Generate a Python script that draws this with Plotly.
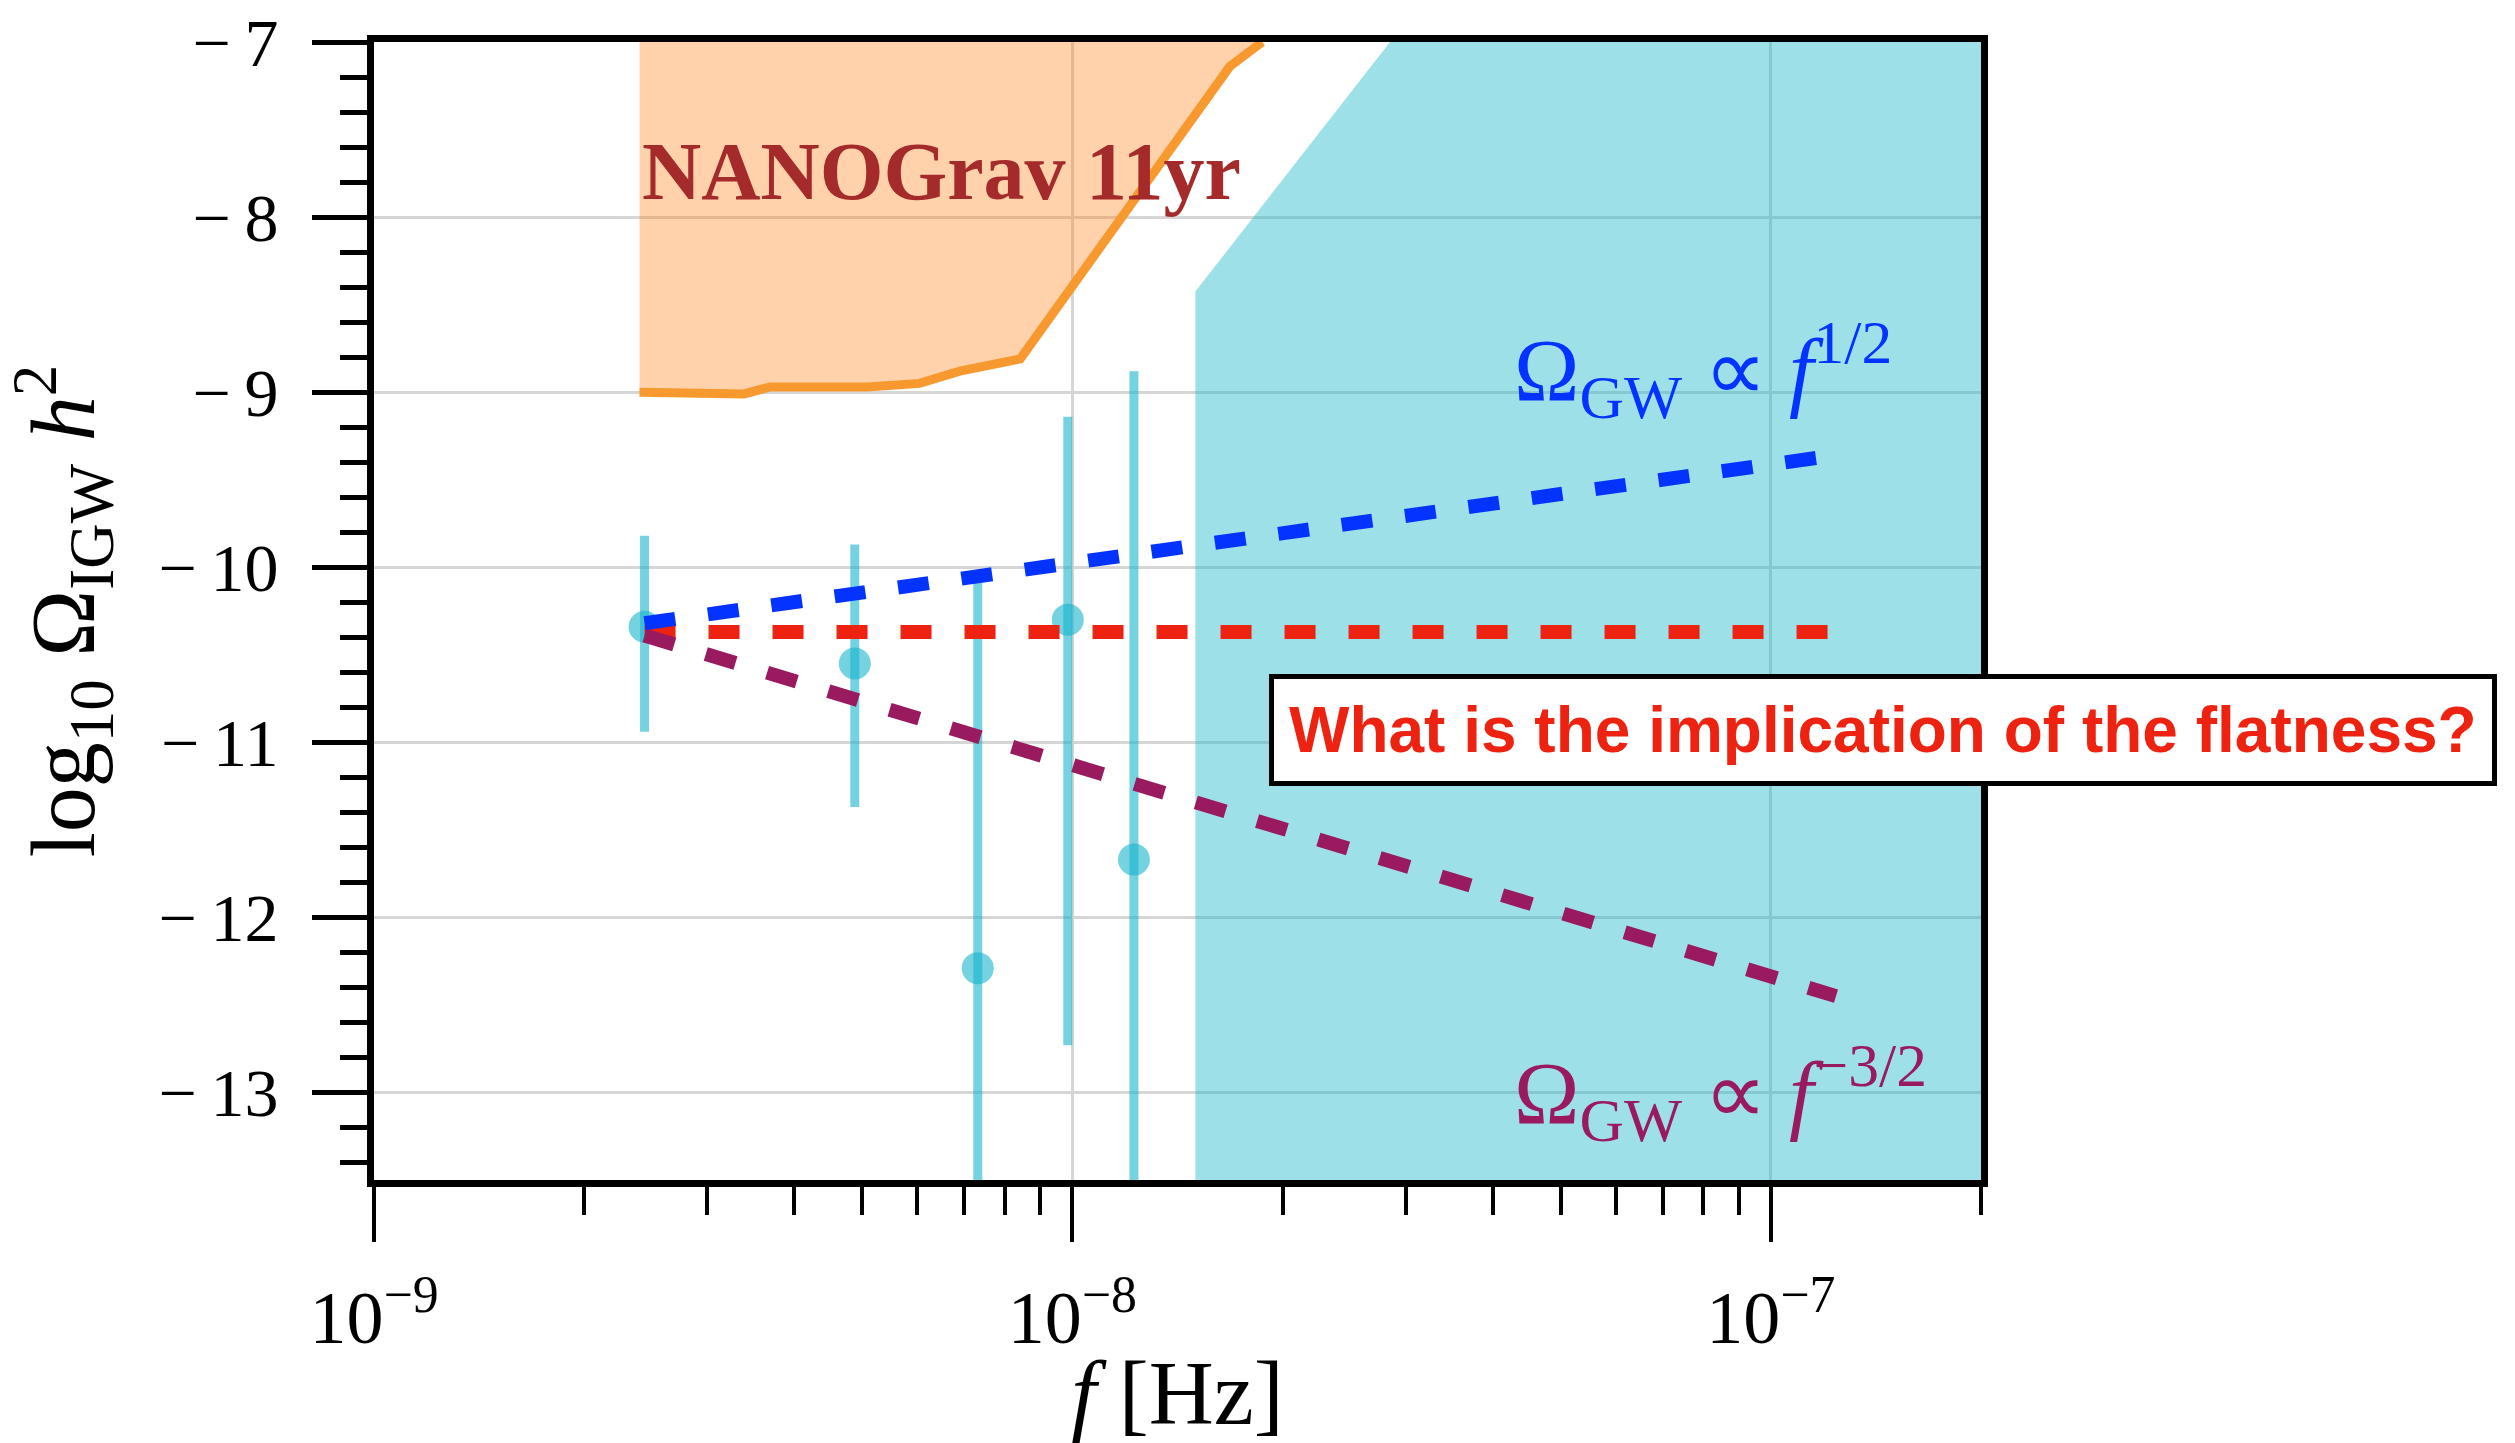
import math
import plotly.graph_objects as go

# ---------------- data ----------------
# axis ranges
x_range = [1e-9, 2e-7]
y_range = [-13.5, -7.0]

# NANOGrav 11yr upper-limit curve (f [Hz], log10 Omega h^2)
nano_f = [2.40e-9, 3.39e-9, 3.69e-9, 5.09e-9, 6.04e-9, 6.90e-9, 8.42e-9, 1.68e-8, 1.87e-8]
nano_y = [-9.00, -9.01, -8.97, -8.97, -8.95, -8.88, -8.81, -7.14, -7.00]

# excluded (cyan) region boundary
cut_f = [1.50e-8, 1.50e-8, 2.85e-8, 2.0e-7, 2.0e-7]
cut_y = [-13.5, -8.425, -7.0, -7.0, -13.5]

# data points with asymmetric error bars
pts_f = [2.44e-9, 4.88e-9, 7.32e-9, 9.85e-9, 1.225e-8]
pts_y = [-10.34, -10.55, -12.29, -10.30, -11.67]
err_up = [0.52, 0.68, 2.20, 1.16, 2.79]
err_down = [0.60, 0.82, 2.60, 2.43, 3.00]

# power-law guide lines (end points)
line_f = [2.44e-9, 1.24e-7]
blue_y = [-10.32, -9.36]
red_y = [-10.37, -10.37]
purple_y = [-10.39, -12.45]

# tick definitions
x_major = [1e-9, 1e-8, 1e-7]
x_major_text = ["10<sup>\u22129</sup>", "10<sup>\u22128</sup>", "10<sup>\u22127</sup>"]
x_minor = [2e-9, 3e-9, 4e-9, 5e-9, 6e-9, 7e-9, 8e-9, 9e-9,
           2e-8, 3e-8, 4e-8, 5e-8, 6e-8, 7e-8, 8e-8, 9e-8, 2e-7]
y_major = [-13, -12, -11, -10, -9, -8, -7]
y_major_text = ["\u2212\u200913", "\u2212\u200912", "\u2212\u200911", "\u2212\u200910",
                "\u2212\u20099", "\u2212\u20098", "\u2212\u20097"]

# ---------------- colours ----------------
ORANGE_FILL = "rgba(255,127,14,0.35)"
ORANGE_LINE = "#F7992E"
CYAN_FILL = "rgba(23,180,200,0.42)"
CYAN_PTS = "rgba(23,180,205,0.6)"
BLUE = "#0433FF"
RED = "#EE2210"
PURPLE = "#991A5E"
BROWN = "#A52A2A"

SERIF = "Liberation Serif, Times New Roman, serif"
SANS = "Liberation Sans, Arial, sans-serif"

fig = go.Figure()

# NANOGrav excluded region (fill up to the top of the axis)
fig.add_trace(go.Scatter(
    x=nano_f + [nano_f[-1], nano_f[0]],
    y=nano_y + [y_range[1] + 0.1, y_range[1] + 0.1],
    mode="lines", fill="toself", fillcolor=ORANGE_FILL,
    line=dict(width=0), hoverinfo="skip"))
fig.add_trace(go.Scatter(
    x=nano_f, y=nano_y, mode="lines",
    line=dict(color=ORANGE_LINE, width=9), hoverinfo="skip"))

# cyan region
fig.add_trace(go.Scatter(
    x=cut_f, y=cut_y, mode="lines", fill="toself", fillcolor=CYAN_FILL,
    line=dict(width=0), hoverinfo="skip"))

# data points
fig.add_trace(go.Scatter(
    x=pts_f, y=pts_y, mode="markers",
    marker=dict(size=32, color=CYAN_PTS, line=dict(width=0)),
    error_y=dict(type="data", symmetric=False, array=err_up, arrayminus=err_down,
                 thickness=9, width=0, color=CYAN_PTS)))

# guide lines
dash = "31px,33px"
fig.add_trace(go.Scatter(x=line_f, y=red_y, mode="lines",
                         line=dict(color=RED, width=14, dash=dash)))
fig.add_trace(go.Scatter(x=line_f, y=purple_y, mode="lines",
                         line=dict(color=PURPLE, width=14, dash=dash)))
fig.add_trace(go.Scatter(x=line_f, y=blue_y, mode="lines",
                         line=dict(color=BLUE, width=14, dash=dash)))

annotations = [
    dict(x=math.log10(nano_f[0]), y=-7.74, xref="x", yref="y",
         text="<b>NANOGrav 11yr</b>", showarrow=False, xanchor="left", yanchor="middle",
         font=dict(family=SERIF, size=82, color=BROWN)),
    dict(x=-7.371, y=-8.87, xref="x", yref="y",
         text="\u03a9<sub>GW</sub> \u221d <i>f</i><sup>1/2</sup>", showarrow=False,
         xanchor="left", yanchor="middle",
         font=dict(family=SERIF, size=88, color=BLUE)),
    dict(x=-7.371, y=-13.0, xref="x", yref="y",
         text="\u03a9<sub>GW</sub> \u221d <i>f</i><sup>\u22123/2</sup>", showarrow=False,
         xanchor="left", yanchor="middle",
         font=dict(family=SERIF, size=88, color=PURPLE)),
    dict(x=-6.839, y=-10.93, xref="x", yref="y",
         text="<b>What is the implication of the flatness?</b>", showarrow=False,
         xanchor="center", yanchor="middle",
         font=dict(family=SANS, size=64, color=RED),
         bgcolor="white", bordercolor="black", borderwidth=5, borderpad=15),
]

fig.update_layout(
    width=2515, height=1443,
    margin=dict(l=374, r=534, t=42, b=263, autoexpand=False),
    plot_bgcolor="white", paper_bgcolor="white",
    showlegend=False,
    annotations=annotations,
    xaxis=dict(
        type="log", automargin=False,
        range=[math.log10(x_range[0]), math.log10(x_range[1])],
        tickmode="array", tickvals=x_major, ticktext=x_major_text,
        ticks="outside", ticklen=55, tickwidth=4, tickcolor="black",
        minor=dict(tickmode="array", tickvals=x_minor, ticks="outside",
                   ticklen=28, tickwidth=4, tickcolor="black", showgrid=False),
        showline=True, linewidth=7, linecolor="black", mirror=True,
        showgrid=True, gridcolor="#d6d6d6", gridwidth=3,
        zeroline=False, layer="below traces",
        tickfont=dict(family=SERIF, size=74, color="black"),
        ticklabelstandoff=12, ticklabeloverflow="allow",
        title=dict(text="<i>f</i> [Hz]", font=dict(family=SERIF, size=90, color="black"),
                   standoff=14),
    ),
    yaxis=dict(
        range=y_range, automargin=False,
        tickmode="array", tickvals=y_major, ticktext=y_major_text,
        ticks="outside", ticklen=55, tickwidth=5, tickcolor="black",
        minor=dict(tick0=-7, dtick=0.2, ticks="outside",
                   ticklen=27, tickwidth=5, tickcolor="black", showgrid=False),
        showline=True, linewidth=7, linecolor="black", mirror=True,
        showgrid=True, gridcolor="#d6d6d6", gridwidth=3,
        zeroline=False, layer="below traces",
        tickfont=dict(family=SERIF, size=68, color="black"),
        ticklabelstandoff=20, ticklabeloverflow="allow",
        title=dict(text="log<sub>10</sub> \u03a9<sub>IGW</sub> <i>h</i><sup>2</sup>",
                   font=dict(family=SERIF, size=90, color="black"), standoff=40),
    ),
)

fig.write_html("out.html")
